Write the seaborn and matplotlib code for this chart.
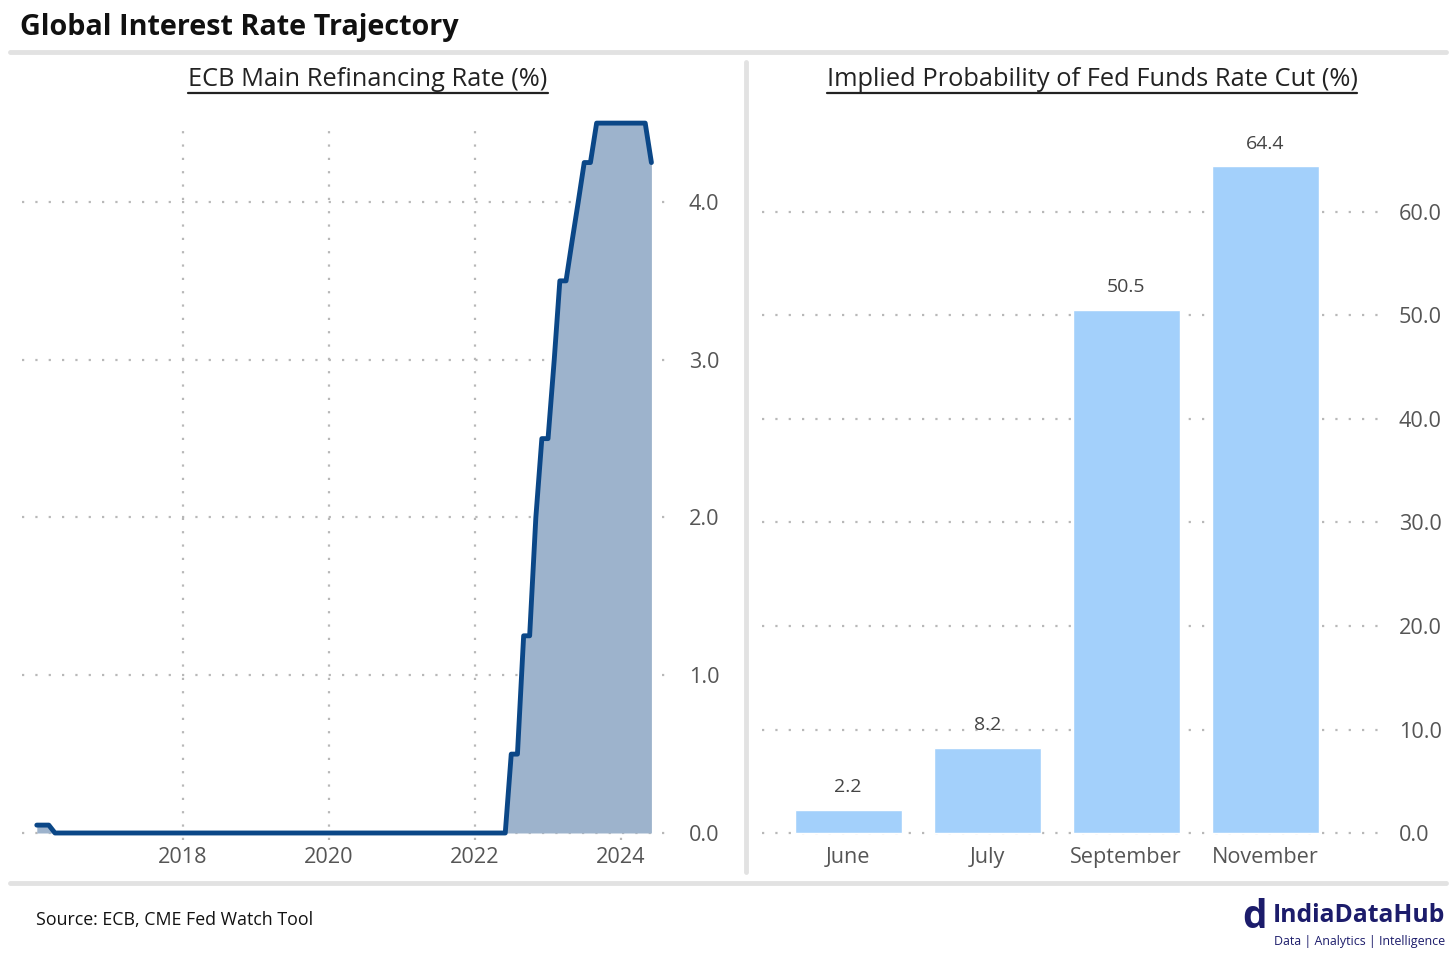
import numpy as np
import pandas as pd
import matplotlib.pyplot as plt
import matplotlib.dates as mdates
from matplotlib.lines import Line2D
import seaborn as sns

# ECB main refinancing rate, monthly (Jan 2016 - Jun 2024)
ecb_start = '2016-01-01'
ecb_end = '2024-06-01'
ecb_2016 = [0.05, 0.05, 0.05, 0.0, 0.0, 0.0, 0.0, 0.0, 0.0, 0.0, 0.0, 0.0]
ecb_2017 = [0.0, 0.0, 0.0, 0.0, 0.0, 0.0, 0.0, 0.0, 0.0, 0.0, 0.0, 0.0]
ecb_2018 = [0.0, 0.0, 0.0, 0.0, 0.0, 0.0, 0.0, 0.0, 0.0, 0.0, 0.0, 0.0]
ecb_2019 = [0.0, 0.0, 0.0, 0.0, 0.0, 0.0, 0.0, 0.0, 0.0, 0.0, 0.0, 0.0]
ecb_2020 = [0.0, 0.0, 0.0, 0.0, 0.0, 0.0, 0.0, 0.0, 0.0, 0.0, 0.0, 0.0]
ecb_2021 = [0.0, 0.0, 0.0, 0.0, 0.0, 0.0, 0.0, 0.0, 0.0, 0.0, 0.0, 0.0]
ecb_2022 = [0.0, 0.0, 0.0, 0.0, 0.0, 0.0, 0.5, 0.5, 1.25, 1.25, 2.0, 2.5]
ecb_2023 = [2.5, 3.0, 3.5, 3.5, 3.75, 4.0, 4.25, 4.25, 4.5, 4.5, 4.5, 4.5]
ecb_2024 = [4.5, 4.5, 4.5, 4.5, 4.5, 4.25]

# CME FedWatch implied probability of a cut
meetings = ['June', 'July', 'September', 'November']
cut_prob = [2.2, 8.2, 50.5, 64.4]

ecb = pd.DataFrame({
    'Date': pd.date_range(ecb_start, ecb_end, freq='MS'),
    'Rate': ecb_2016 + ecb_2017 + ecb_2018 + ecb_2019 + ecb_2020
            + ecb_2021 + ecb_2022 + ecb_2023 + ecb_2024,
})
fed = pd.DataFrame({'Meeting': meetings, 'Prob': cut_prob})

sns.set_style('white')
plt.rcParams['font.family'] = ['Open Sans', 'DejaVu Sans']

W, H = 1456, 958
fig = plt.figure(figsize=(W / 100, H / 100), dpi=100)


def box(x0, y0, x1, y1):
    # pixel box (top-left origin) -> figure rect
    return [x0 / W, 1 - y1 / H, (x1 - x0) / W, (y1 - y0) / H]


def fx(x):
    return x / W


def fy(y):
    return 1 - y / H


line_col = '#0b4787'
fill_col = '#9db3cc'
bar_col = '#a3d0fb'
grid_col = '#b8b8b8'
tick_col = '#555555'

# ---- left: ECB rate ----
ax1 = fig.add_axes(box(22, 128, 672, 840))
ax1.fill_between(ecb['Date'], ecb['Rate'], 0, color=fill_col, lw=0, clip_on=False)
sns.lineplot(data=ecb, x='Date', y='Rate', ax=ax1, color=line_col, lw=3.5)
for ln in ax1.get_lines():
    ln.set_clip_on(False)
ax1.set_xlim(pd.Timestamp('2015-10-19'), pd.Timestamp('2024-09-12'))
ax1.set_ylim(-0.0444, 4.469)
ax1.set_yticks([0, 1, 2, 3, 4])
ax1.yaxis.set_major_formatter(plt.FuncFormatter(lambda v, p: f'{v:.1f}'))
ax1.set_xticks([pd.Timestamp(f'{y}-01-01') for y in (2018, 2020, 2022, 2024)])
ax1.xaxis.set_major_formatter(mdates.DateFormatter('%Y'))
ax1.grid(True, axis='both', color=grid_col, ls=(0, (1, 5)), lw=1.6)

# ---- right: Fed cut probability ----
ax2 = fig.add_axes(box(762, 100, 1382, 840))
sns.barplot(data=fed, x='Meeting', y='Prob', ax=ax2, color=bar_col,
            saturation=1, width=0.77)
ax2.set_xlim(-0.62, 3.84)
ax2.set_ylim(-0.676, 70.82)
ax2.set_yticks([0, 10, 20, 30, 40, 50, 60])
ax2.yaxis.set_major_formatter(plt.FuncFormatter(lambda v, p: f'{v:.1f}'))
ax2.grid(True, axis='y', color=grid_col, ls=(0, (1, 5)), lw=1.6)
for i, v in enumerate(cut_prob):
    ax2.annotate(f'{v:.1f}', (i, v), xytext=(0, 10), textcoords='offset points',
                 ha='center', va='bottom', fontsize=14, color='#444444')

for ax in (ax1, ax2):
    ax.set_axisbelow(True)
    ax.set_xlabel('')
    ax.set_ylabel('')
    sns.despine(ax=ax, left=True, bottom=True)
    ax.yaxis.tick_right()
    ax.tick_params(length=0, labelsize=15.6, labelcolor=tick_col)
    ax.tick_params(axis='y', pad=12)
    ax.tick_params(axis='x', pad=5)
    ax.patch.set_alpha(0)

# ---- titles, separators, footer ----
fig.text(fx(20), fy(27), 'Global Interest Rate Trajectory', fontsize=20.7,
         fontweight='bold', color='#111111', va='center', ha='left')
sub1 = fig.text(fx(368), fy(79), 'ECB Main Refinancing Rate (%)', fontsize=18.3,
                color='#222222', ha='center', va='center')
sub2 = fig.text(fx(1092), fy(79), 'Implied Probability of Fed Funds Rate Cut (%)',
                fontsize=18.3, color='#222222', ha='center', va='center')

sep = '#e2e2e2'
fig.add_artist(Line2D([fx(10), fx(1446)], [fy(52), fy(52)], color=sep, lw=3.5))
fig.add_artist(Line2D([fx(10), fx(1446)], [fy(883), fy(883)], color=sep, lw=3.5))
fig.add_artist(Line2D([fx(746), fx(746)], [fy(62), fy(872)], color=sep, lw=3.5))

fig.text(fx(36), fy(920), 'Source: ECB, CME Fed Watch Tool', fontsize=12.8,
         color='#111111', va='center', ha='left')

navy = '#1c1c6b'
fig.text(fx(1254), fy(918), 'd', fontsize=28, fontweight='bold', color=navy,
         ha='center', va='center')
fig.text(fx(1273), fy(916), 'IndiaDataHub', fontsize=17.8, fontweight='bold',
         color=navy, ha='left', va='center')
fig.text(fx(1274), fy(942), 'Data | Analytics | Intelligence', fontsize=8.9,
         color=navy, ha='left', va='center')

# underline the panel titles
fig.canvas.draw()
rend = fig.canvas.get_renderer()
for t in (sub1, sub2):
    bb = t.get_window_extent(rend).transformed(fig.transFigure.inverted())
    fig.add_artist(Line2D([bb.x0, bb.x1], [fy(92.5), fy(92.5)], color='#222222', lw=1.6))

fig.savefig('out.png', dpi=100)
